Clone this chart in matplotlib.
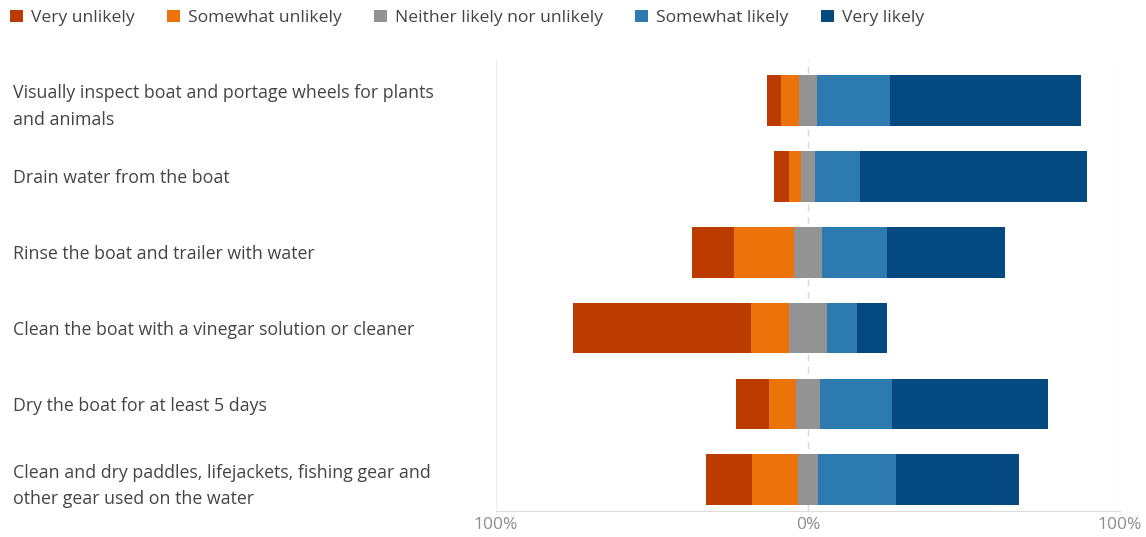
import numpy as np
import matplotlib.pyplot as plt
from matplotlib.patches import Patch

plt.rcParams['font.family'] = ['Open Sans', 'DejaVu Sans']

# survey items, top to bottom
items = [
    "Visually inspect boat and portage wheels for plants\nand animals",
    "Drain water from the boat",
    "Rinse the boat and trailer with water",
    "Clean the boat with a vinegar solution or cleaner",
    "Dry the boat for at least 5 days",
    "Clean and dry paddles, lifejackets, fishing gear and\nother gear used on the water",
]

levels = ["Very unlikely", "Somewhat unlikely", "Neither likely nor unlikely",
          "Somewhat likely", "Very likely"]
colors = ["#bc3b00", "#eb730a", "#939393", "#2c7ab0", "#04497f"]

# percentages
very_unlikely = [4.5, 4.6, 13.6, 57.2, 10.7, 14.6]
somewhat_unlikely = [5.6, 3.8, 19.2, 12.1, 8.6, 14.7]
neither = [5.9, 4.8, 8.9, 12.1, 7.8, 6.7]
somewhat_likely = [23.3, 14.2, 20.8, 9.6, 23.0, 24.8]
very_likely = [61.1, 72.9, 37.9, 9.6, 49.9, 39.5]

data = np.array([very_unlikely, somewhat_unlikely, neither, somewhat_likely, very_likely])

fig = plt.figure(figsize=(11.46, 5.37), dpi=100)
ax = fig.add_axes([496 / 1146, 1 - 511 / 537, 624 / 1146, 451 / 537])

y = np.arange(len(items))
# centre the neutral segment on zero
left = -(data[0] + data[1] + data[2] / 2)
for i in range(len(levels)):
    ax.barh(y, data[i], left=left, height=0.67, color=colors[i], label=levels[i], zorder=3)
    left = left + data[i]

ax.set_xlim(-100, 100)
ax.set_ylim(5.41, -0.53)

# gridlines
ax.axvline(0, color="#d9d9d9", lw=1, ls=(0, (5, 4)), zorder=1)
ax.axvline(-100, color="#ececec", lw=1, zorder=1)
ax.axvline(100, color="#ececec", lw=1, zorder=1)

for s in ["top", "right", "left"]:
    ax.spines[s].set_visible(False)
ax.spines["bottom"].set_color("#dcdcdc")

ax.set_xticks([-100, 0, 100])
ax.set_xticklabels(["100%", "0%", "100%"], color="#8c8c8c", fontsize=12.5)
ax.tick_params(axis="x", length=0, pad=4)

ax.set_yticks(y)
ax.set_yticklabels(items, color="#444444", fontsize=12.8, ha="left", linespacing=1.6)
ax.tick_params(axis="y", length=0, pad=348)

handles = [Patch(facecolor=c, edgecolor="none") for c in colors]
fig.legend(handles, levels, loc="upper left", bbox_to_anchor=(0.0, 1.0), ncol=5,
           frameon=False, fontsize=12.6, handlelength=0.75, handleheight=0.75,
           handletextpad=0.45, columnspacing=1.85, labelcolor="#444444",
           borderaxespad=0.15)

fig.savefig("out.png", dpi=100)
